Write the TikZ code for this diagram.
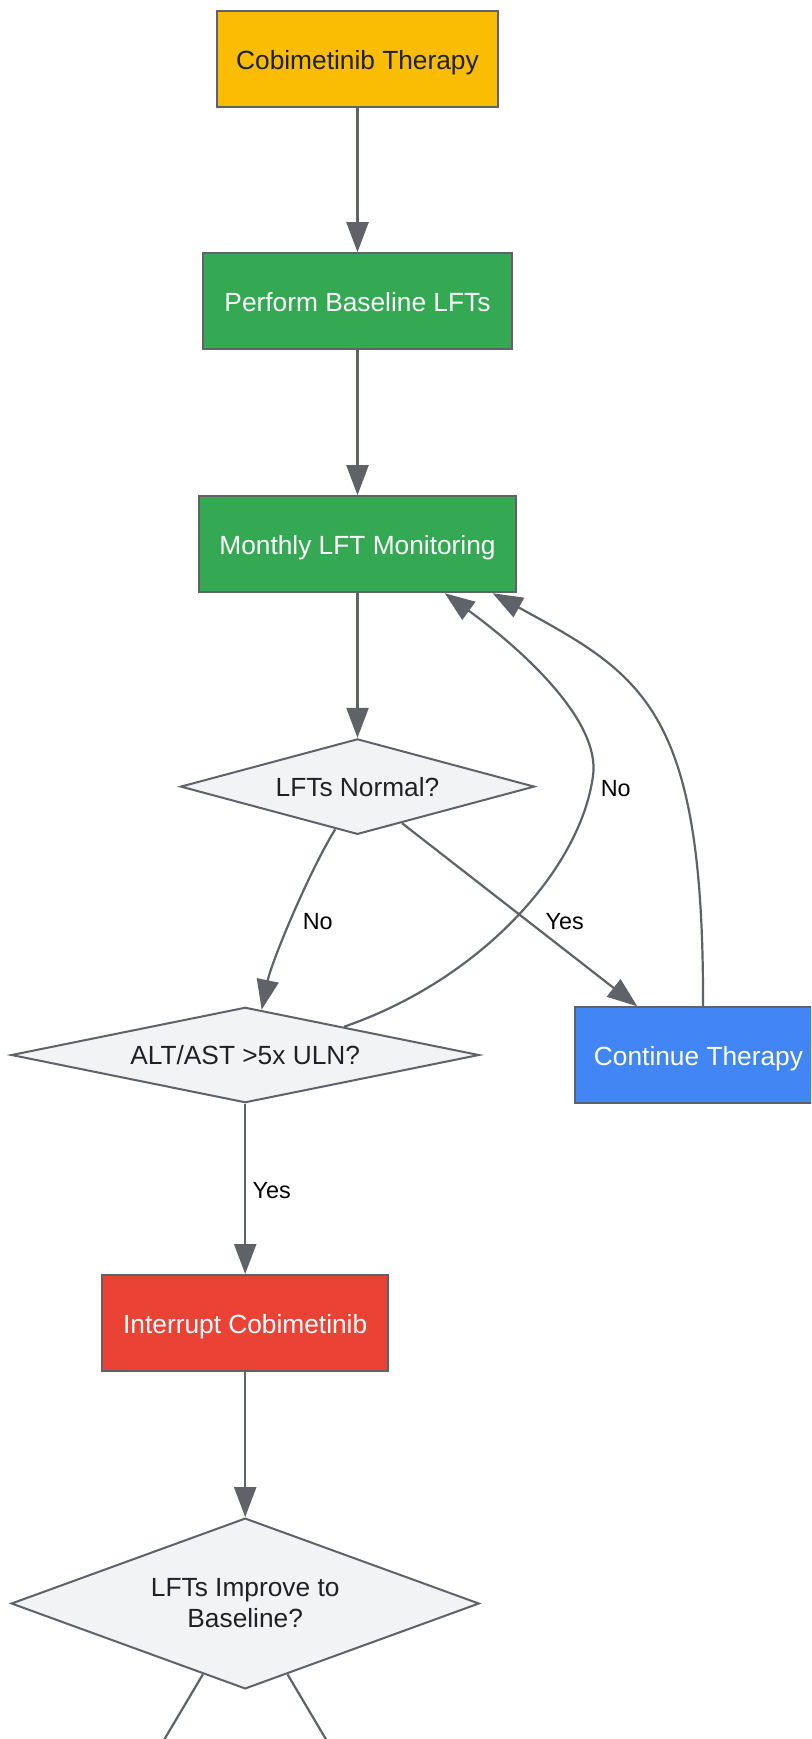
\documentclass[tikz,border=0pt]{standalone}
\usepackage{fontspec}
\setmainfont{Liberation Sans}
\usetikzlibrary{shapes.geometric,arrows.meta,calc}
\definecolor{strokegray}{HTML}{5F6368}
\definecolor{gyellow}{HTML}{FBBC04}
\definecolor{ggreen}{HTML}{34A853}
\definecolor{gblue}{HTML}{4285F4}
\definecolor{gred}{HTML}{EA4335}
\definecolor{dgray}{HTML}{F1F3F4}
\definecolor{txt}{HTML}{202124}
\begin{document}
\begin{tikzpicture}[x=1pt,y=-1pt,
  box/.style={draw=strokegray, line width=2pt, rectangle, inner sep=0pt,
    font=\fontsize{26.3}{31}\selectfont, minimum height=96pt,
    text height=20.8pt, text depth=0pt},
  dec/.style={draw=strokegray, line width=2pt, diamond, fill=dgray, text=txt,
    inner sep=0pt, align=center, font=\fontsize{26.3}{31}\selectfont},
  arr/.style={draw=strokegray, line width=2.2pt, -{Triangle[length=30pt,width=22pt]}},
  plain/.style={draw=strokegray, line width=2.2pt},
  lbl/.style={font=\fontsize{23.4}{28}\selectfont, text=black, inner sep=0pt}
]
\useasboundingbox (0,0) rectangle (811,1739);
\fill[white] (0,0) rectangle (811,1739);
\clip (0,0) rectangle (811,1739);

\node[box, fill=gyellow, text=txt, minimum width=281pt] (cob) at (357.5,58.8) {Cobimetinib Therapy};
\node[box, fill=ggreen, text=white, minimum width=309.5pt] (pb) at (357.5,301.2) {Perform Baseline LFTs};
\node[box, fill=ggreen, text=white, minimum width=317.3pt] (mon) at (357.5,544.2) {Monthly LFT Monitoring};
\node[dec, minimum width=354pt, minimum height=95.5pt, aspect=3.7] (lfn) at (357.5,786.6) {LFTs Normal?};
\node[dec, minimum width=468pt, minimum height=95.4pt, aspect=4.9] (alt) at (245.2,1055) {ALT/AST >5x ULN?};
\node[box, fill=gblue, text=white, minimum width=248pt, minimum height=95.4pt] (ct) at (698.5,1055) {Continue Therapy};
\node[box, fill=gred, text=white, minimum width=286.3pt] (int) at (245.2,1323) {Interrupt Cobimetinib};
\node[dec, minimum width=468pt, minimum height=170.8pt, aspect=2.74] (imp) at (245.2,1603.5) {LFTs Improve to\\Baseline?};

\draw[arr] (cob) -- (pb);
\draw[arr] (pb) -- (mon);
\draw[arr] (mon) -- (lfn);

\draw[arr] ($(lfn.south)!0.125!(lfn.west)$) .. controls (310,870) and (272,960) .. ($(alt.north)!0.07!(alt.east)$);
\node[lbl] (lno1) at (317.8,922) {No};

\draw[arr] ($(lfn.south)!0.25!(lfn.east)$) -- ($(ct.north west)!0.255!(ct.north east)$);
\node[lbl] (lyes1) at (564.7,922) {Yes};

\coordinate (bendno) at (593,776);
\draw[arr] ($(alt.north)!0.42!(alt.east)$) .. controls (480,980) and (580,870) .. (bendno)
  .. controls (601,720) and (520,648) .. ($(mon.south west)!0.773!(mon.south east)$);
\node[lbl] (lno2) at (615.7,788.8) {No};

\draw[arr] ($(ct.north west)!0.518!(ct.north east)$) .. controls (704,707) and (642,675) .. ($(mon.south west)!0.923!(mon.south east)$);

\draw[arr] (alt) -- (int);
\node[lbl] (lyes2) at (271.8,1190.4) {Yes};
\draw[arr] (int) -- (imp);

\coordinate (out1) at (161,1745);
\coordinate (out2) at (329.4,1745);
\draw[plain] ($(imp.south)!0.18!(imp.west)$) -- (out1);
\draw[plain] ($(imp.south)!0.18!(imp.east)$) -- (out2);
\end{tikzpicture}
\end{document}
